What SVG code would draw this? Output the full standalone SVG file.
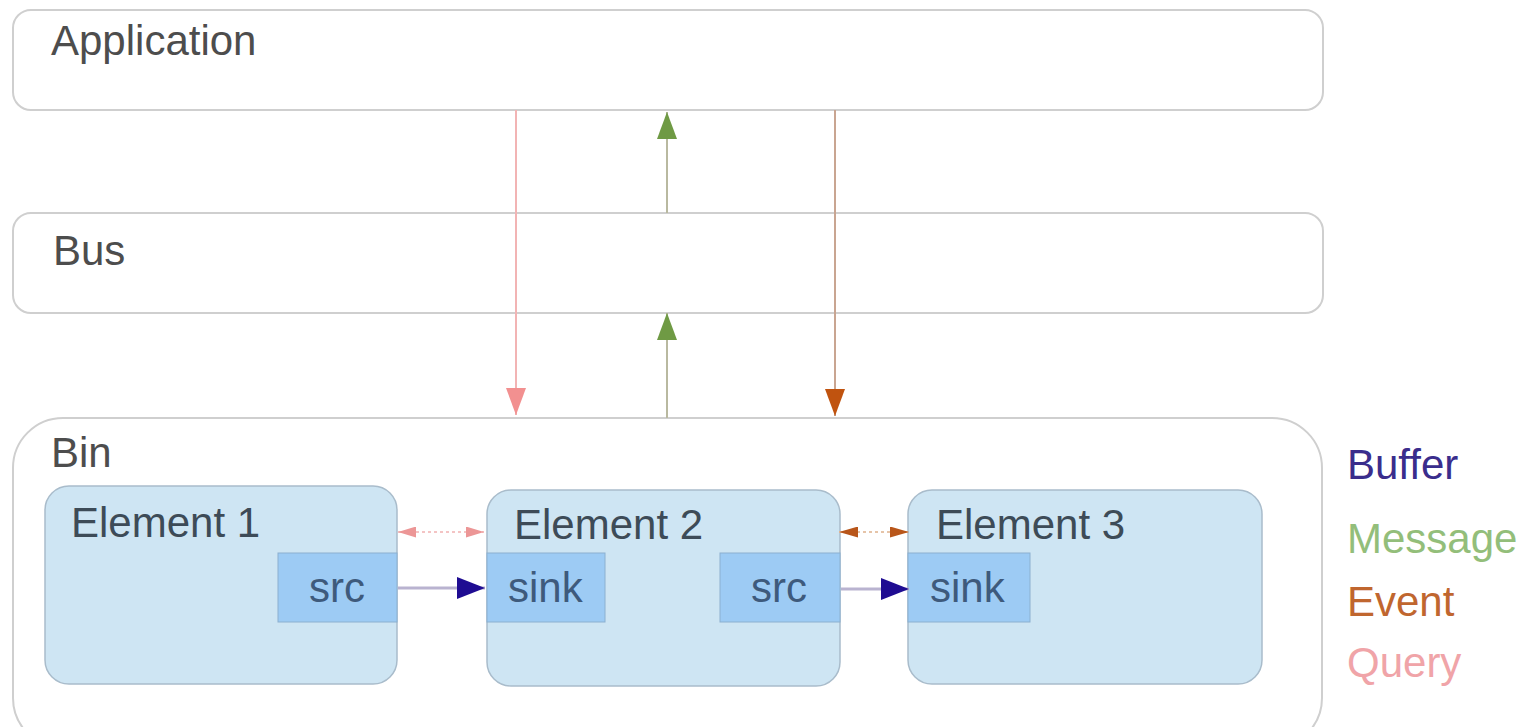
<svg xmlns="http://www.w3.org/2000/svg" width="1534" height="727" viewBox="0 0 1534 727">
<style>
  .box { fill: #ffffff; stroke: #cfcfcf; stroke-width: 2; }
  .elem { fill: #cee5f3; stroke: #a9bccb; stroke-width: 1.5; }
  .pad { fill: #9dcbf4; stroke: #8bb0d0; stroke-width: 1; }
  .title { font-family: "Liberation Sans", Arial, sans-serif; font-size: 42px; fill: #4d4d4d; }
  .etitle { font-family: "Liberation Sans", Arial, sans-serif; font-size: 42px; fill: #3d4b57; }
  .padtxt { font-family: "Liberation Sans", Arial, sans-serif; font-size: 42px; fill: #3e5a7c; }
  .legend { font-family: "Liberation Sans", Arial, sans-serif; font-size: 42px; }
</style>
<defs>
  <marker id="mQuery" markerUnits="userSpaceOnUse" markerWidth="28" markerHeight="20" refX="27" refY="10" orient="auto">
    <path d="M0,0 L27,10 L0,20 z" fill="#f29090"/>
  </marker>
  <marker id="mMsg" markerUnits="userSpaceOnUse" markerWidth="28" markerHeight="20" refX="27" refY="10" orient="auto">
    <path d="M0,0 L27,10 L0,20 z" fill="#6f9a44"/>
  </marker>
  <marker id="mEvent" markerUnits="userSpaceOnUse" markerWidth="28" markerHeight="20" refX="27" refY="10" orient="auto">
    <path d="M0,0 L27,10 L0,20 z" fill="#c0530f"/>
  </marker>
  <marker id="mQuerySm" markerUnits="userSpaceOnUse" markerWidth="19" markerHeight="11" refX="18" refY="5.5" orient="auto-start-reverse">
    <path d="M0,0 L18,5.5 L0,11 z" fill="#ec9696"/>
  </marker>
  <marker id="mEventSm" markerUnits="userSpaceOnUse" markerWidth="20" markerHeight="11" refX="19" refY="5.5" orient="auto-start-reverse">
    <path d="M0,0 L19,5.5 L0,11 z" fill="#b8561a"/>
  </marker>
  <marker id="mBuf" markerUnits="userSpaceOnUse" markerWidth="29" markerHeight="22" refX="28" refY="11" orient="auto">
    <path d="M0,0 L28,11 L0,22 z" fill="#1f0c92"/>
  </marker>
</defs>

<g id="application">
  <rect class="box" x="13" y="10" width="1310" height="100" rx="18"/>
  <text class="title" x="51" y="55">Application</text>
</g>

<g id="bus">
  <rect class="box" x="13" y="213" width="1310" height="100" rx="18"/>
  <text class="title" x="53" y="265">Bus</text>
</g>

<g id="bin">
  <rect class="box" x="13" y="418" width="1309" height="330" rx="50"/>
  <text class="title" x="51" y="467">Bin</text>
</g>

<g id="element1">
  <rect class="elem" x="45" y="486" width="352" height="198" rx="24"/>
  <text class="etitle" x="71" y="537">Element 1</text>
  <g id="element1-src">
    <rect class="pad" x="278" y="553" width="119" height="69"/>
    <text class="padtxt" x="337" y="602" text-anchor="middle">src</text>
  </g>
</g>

<g id="element2">
  <rect class="elem" x="487" y="490" width="353" height="196" rx="24"/>
  <text class="etitle" x="514" y="539">Element 2</text>
  <g id="element2-sink">
    <rect class="pad" x="487" y="553" width="118" height="69"/>
    <text class="padtxt" x="508" y="602">sink</text>
  </g>
  <g id="element2-src">
    <rect class="pad" x="720" y="553" width="120" height="69"/>
    <text class="padtxt" x="779" y="602" text-anchor="middle">src</text>
  </g>
</g>

<g id="element3">
  <rect class="elem" x="908" y="490" width="354" height="194" rx="24"/>
  <text class="etitle" x="936" y="539">Element 3</text>
  <g id="element3-sink">
    <rect class="pad" x="908" y="553" width="122" height="69"/>
    <text class="padtxt" x="930" y="602">sink</text>
  </g>
</g>

<g id="legend">
  <text class="legend" x="1347" y="479" fill="#3a2d8c">Buffer</text>
  <text class="legend" x="1347" y="553" fill="#93be7a">Message</text>
  <text class="legend" x="1347" y="616" fill="#c0662f">Event</text>
  <text class="legend" x="1347" y="677" fill="#f0a4a8">Query</text>
</g>

<g id="connectors" fill="none">
  <line x1="516" y1="110" x2="516" y2="415" stroke="#f2b4b4" stroke-width="2" marker-end="url(#mQuery)"/>
  <line x1="667" y1="213" x2="667" y2="112" stroke="#b9b9a0" stroke-width="2" marker-end="url(#mMsg)"/>
  <line x1="667" y1="418" x2="667" y2="313" stroke="#b9b9a0" stroke-width="2" marker-end="url(#mMsg)"/>
  <line x1="835" y1="110" x2="835" y2="416" stroke="#c9a591" stroke-width="2" marker-end="url(#mEvent)"/>
  <line x1="398" y1="532" x2="484" y2="532" stroke="#f4c4c4" stroke-width="2" stroke-dasharray="3 3" marker-start="url(#mQuerySm)" marker-end="url(#mQuerySm)"/>
  <line x1="839" y1="532" x2="909" y2="532" stroke="#e6c4a8" stroke-width="2" stroke-dasharray="3 3" marker-start="url(#mEventSm)" marker-end="url(#mEventSm)"/>
  <line x1="398" y1="588" x2="485" y2="588" stroke="#b9b3d0" stroke-width="3" marker-end="url(#mBuf)"/>
  <line x1="841" y1="589" x2="909" y2="589" stroke="#b9b3d0" stroke-width="3" marker-end="url(#mBuf)"/>
</g>
</svg>
